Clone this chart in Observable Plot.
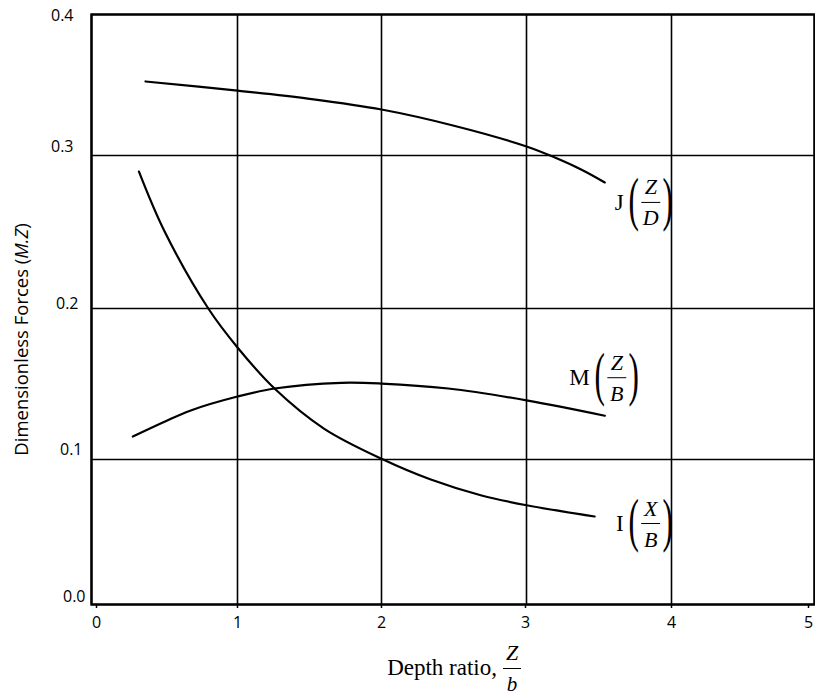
<!DOCTYPE html>
<html><head><meta charset="utf-8">
<script src="https://cdn.jsdelivr.net/npm/d3@7"></script>
<script src="https://cdn.jsdelivr.net/npm/@observablehq/plot@0.6"></script>
<style>body{margin:0;background:#fff} svg{display:block}</style>
</head><body><div id="chart"></div>
<script>
// ---- data ----
const xTicks = [0, 1, 2, 3, 4, 5];
const yTicks = [0, 0.1, 0.2, 0.3, 0.4];

const jX = [0.37, 1.0, 1.5, 2.0, 2.5, 3.0, 3.2, 3.38, 3.54];
const jY = [0.3525, 0.346, 0.3402, 0.3326, 0.3211, 0.3064, 0.2985, 0.2907, 0.2824];

const mX = [0.283, 0.5, 0.68, 1.0, 1.257, 1.72, 2.0, 2.46, 3.01, 3.54];
const mY = [0.1152, 0.1250, 0.1325, 0.1417, 0.147, 0.1508, 0.1503, 0.147, 0.139, 0.129];

const iX = [0.325, 0.5, 0.80, 1.0, 1.257, 1.60, 2.0, 2.34, 2.69, 3.01, 3.47];
const iY = [0.2895, 0.2505, 0.200, 0.1742, 0.147, 0.1205, 0.1005, 0.0862, 0.0752, 0.0683, 0.0607];

const seriesNames = ["J", "M", "I"];
const seriesNum = ["Z", "Z", "X"];
const seriesDen = ["D", "B", "B"];
const seriesXs = [jX, mX, iX];
const seriesYs = [jY, mY, iY];

const xTitle = "Depth ratio,";
const xTitleNum = "Z";
const xTitleDen = "b";
const yTitle = "Dimensionless Forces (M.Z)";

// ---- build ----
const lineData = seriesNames.flatMap((n, s) =>
  seriesXs[s].map((x, i) => ({series: n, x, y: seriesYs[s][i]})));

// the original (scanned) grid is slightly uneven: warp the axes so grid lines land where drawn
const xWarp = d3.scaleLinear().domain(xTicks).range([0, 146, 290, 435, 580, 723]);
const yWarp = d3.scaleLinear().domain(yTicks).range([0, 145, 296, 449, 590]);

// horizontal bar symbol for fraction lines
const hbar = {draw(ctx, size) { const w = Math.sqrt(size / Math.PI); ctx.moveTo(-w, 0); ctx.lineTo(w, 0); }};

// label offsets (pixels) from each curve's end point
const labelOffset = {J: [46, 20], M: [12, -38], I: [56, 7]};
// per-tick label nudges, as in the original
const xTickNudge = [5, 0, 0, -1, 0, -6];
const yTickStyle = [[6, -8], [9, -10], [13, -5], [18, -9], [18, 1]]; // [padding, dy]

const serif = "Liberation Serif, Times New Roman, serif";
const sans = "Open Sans, sans-serif";
const labelMarks = seriesNames.flatMap((n, s) => {
  const xs = seriesXs[s], ys = seriesYs[s];
  const end = [{x: xs[xs.length - 1], y: ys[ys.length - 1]}];
  const [ox, oy] = labelOffset[n];
  const common = {x: "x", y: "y", fontFamily: serif, fill: "black"};
  return [
    Plot.text(end, {...common, text: () => n, dx: ox - 27, dy: oy, textAnchor: "end", fontSize: 23}),
    Plot.text(end, {...common, text: () => "(", dx: ox - 17, dy: oy - 3, fontSize: 60, className: "paren"}),
    Plot.text(end, {...common, text: () => ")", dx: ox + 17, dy: oy - 3, fontSize: 60, className: "paren"}),
    Plot.text(end, {...common, text: () => seriesNum[s], dx: ox, dy: oy - 15, fontSize: 22, fontStyle: "italic"}),
    Plot.dot(end, {x: "x", y: "y", symbol: hbar, r: 9.5, stroke: "black", strokeWidth: 1, dx: ox, dy: oy}),
    Plot.text(end, {...common, text: () => seriesDen[s], dx: ox, dy: oy + 16, fontSize: 22, fontStyle: "italic"})
  ];
});

const xAxisMarks = xTicks.map((t, i) =>
  Plot.axisX([t], {tickSize: 4, tickPadding: 8, stroke: "black", strokeWidth: 1.5, fontSize: 16, fontFamily: sans, dx: xTickNudge[i], tickFormat: d => String(d), label: null}));
const yAxisMarks = yTicks.map((t, i) =>
  Plot.axisY([t], {tickSize: 0, tickPadding: yTickStyle[i][0], dy: yTickStyle[i][1], fontSize: 16, fontFamily: sans, tickFormat: d3.format(".1f"), label: null}));

const chart = Plot.plot({
  width: 815,
  height: 696,
  marginLeft: 91,
  marginRight: 1,
  marginTop: 14,
  marginBottom: 92,
  style: {fontFamily: sans, fontSize: "16px", color: "black", background: "white"},
  x: {transform: xWarp, label: null},
  y: {transform: yWarp, label: null},
  marks: [
    Plot.gridX(xTicks, {stroke: "black", strokeOpacity: 1, strokeWidth: 1.6}),
    Plot.gridY(yTicks, {stroke: "black", strokeOpacity: 1, strokeWidth: 1.6}),
    ...xAxisMarks,
    ...yAxisMarks,
    Plot.frame({stroke: "black", strokeWidth: 2.4}),
    Plot.line(lineData, {x: "x", y: "y", z: "series", stroke: "black", strokeWidth: 2.2, curve: "catmull-rom"}),
    ...labelMarks,
    // x-axis title
    Plot.text([xTitle], {frameAnchor: "bottom", lineAnchor: "middle", text: d => d, textAnchor: "end", dx: 44, dy: 63, fontSize: 23, fontFamily: serif}),
    Plot.text([xTitleNum], {frameAnchor: "bottom", lineAnchor: "middle", text: d => d, dx: 59, dy: 48, fontSize: 22, fontFamily: serif, fontStyle: "italic"}),
    Plot.dot([xTitleNum], {frameAnchor: "bottom", symbol: hbar, r: 9, stroke: "black", strokeWidth: 1, dx: 59, dy: 64}),
    Plot.text([xTitleDen], {frameAnchor: "bottom", lineAnchor: "middle", text: d => d, dx: 59, dy: 80, fontSize: 21, fontFamily: serif, fontStyle: "italic"}),
    // y-axis title
    Plot.text([yTitle], {frameAnchor: "left", textAnchor: "middle", lineAnchor: "middle", text: d => d, rotate: -90, dx: -69, dy: 30, fontSize: 18.5, fontFamily: sans})
  ]
});

document.getElementById("chart").append(chart);

// thin, tall parentheses: squeeze horizontally about each glyph's anchor
d3.select(chart).selectAll("g.paren text").attr("transform", function() {
  return (this.getAttribute("transform") || "") + " scale(0.52,1)";
});

// italicise the "M.Z" part of the y title
d3.select(chart).selectAll("text").filter(function() { return this.textContent === yTitle; })
  .each(function() {
    const t = d3.select(this);
    t.text(null);
    t.append("tspan").text("Dimensionless Forces (");
    t.append("tspan").attr("font-style", "italic").text("M.Z");
    t.append("tspan").text(")");
  });
</script>
</body></html>
